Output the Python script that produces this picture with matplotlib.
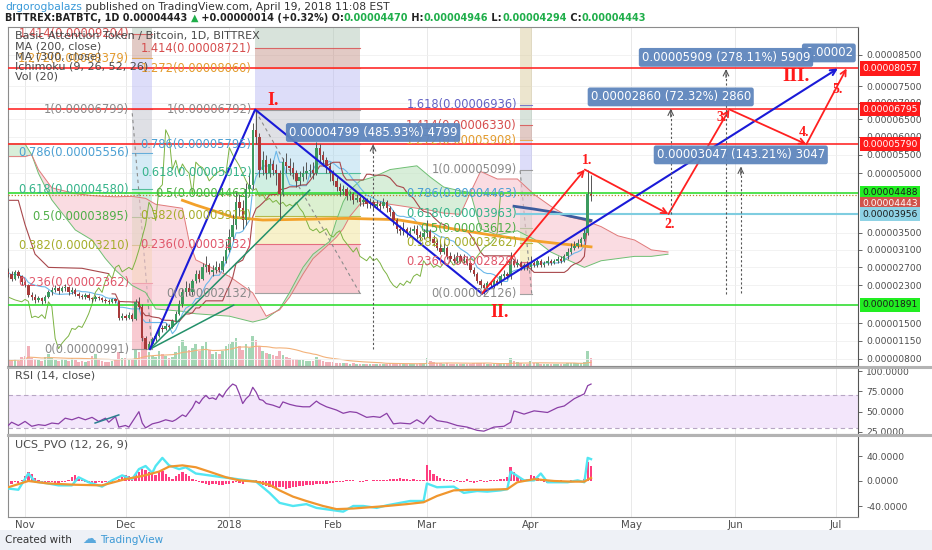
import numpy as np
import pandas as pd
import matplotlib
matplotlib.use("Agg")
import matplotlib.pyplot as plt
import matplotlib.dates as mdates
from matplotlib.lines import Line2D
from matplotlib.patches import Rectangle
from matplotlib.ticker import NullLocator

W, H = 932, 550

# ---------------- daily candles, satoshi (1e-8 BTC), 2017-10-27 .. 2018-04-19 ----------------
first_open = 2600
close_oct = [2550, 2450, 2600, 2500, 2380]
high_oct = [2680, 2620, 2650, 2640, 2540]
low_oct = [2480, 2400, 2420, 2460, 2320]

close_nov = [2300, 2100, 2050, 1980, 2020, 1960, 2060, 2150, 2200, 2250,
             2180, 2240, 2260, 2150, 2210, 2120, 2080, 2050, 2100, 2020,
             2000, 2050, 2020, 1990, 1970, 1950, 2000, 1960, 1620, 1650]
high_nov = [2420, 2340, 2150, 2110, 2080, 2060, 2100, 2200, 2260, 2320,
            2280, 2290, 2330, 2280, 2260, 2240, 2160, 2120, 2140, 2130,
            2060, 2090, 2080, 2050, 2020, 2010, 2040, 2030, 1990, 1720]
low_nov = [2260, 2050, 1980, 1930, 1950, 1900, 1930, 2020, 2100, 2150,
           2120, 2150, 2190, 2100, 2120, 2080, 2040, 2000, 2010, 1980,
           1950, 1970, 1980, 1940, 1930, 1910, 1920, 1920, 1580, 1580]

close_dec = [1620, 1680, 1600, 1950, 1850, 1200, 1000, 1100, 1180, 1250,
             1400, 1380, 1450, 1420, 1550, 1700, 1900, 2150, 2250, 2150,
             2400, 2550, 2450, 2700, 2750, 2600, 2650, 2700, 2650, 2850, 3100]
high_dec = [1700, 1740, 1720, 2000, 2050, 1900, 1250, 1150, 1230, 1300,
            1450, 1470, 1500, 1490, 1600, 1750, 1980, 2250, 2400, 2350,
            2450, 2650, 2650, 2800, 2950, 2800, 2750, 2850, 2800, 2950, 3300]
low_dec = [1570, 1590, 1560, 1580, 1800, 1150, 991, 995, 1080, 1150,
           1230, 1320, 1360, 1380, 1400, 1520, 1680, 1850, 2080, 2100,
           2100, 2350, 2380, 2420, 2600, 2550, 2500, 2580, 2600, 2600, 2800]

close_jan = [3400, 3700, 4250, 4100, 3800, 4600, 4700, 6200, 6000, 5100,
             5350, 5000, 5250, 5100, 5000, 4450, 5300, 5200, 5150, 5000,
             4800, 4900, 5000, 5050, 5100, 5000, 5700, 5500, 5350, 5200, 5000]
high_jan = [3600, 3950, 4500, 4450, 4300, 4750, 5000, 6400, 6792, 6100,
            5600, 5500, 5400, 5350, 5250, 5100, 5400, 5550, 5400, 5300,
            5100, 5050, 5200, 5300, 5250, 5300, 5850, 5800, 5600, 5450, 5300]
low_jan = [3050, 3300, 3600, 3900, 3600, 3700, 4400, 4600, 5800, 4900,
           4950, 4850, 4900, 4950, 4700, 3800, 4400, 5000, 4950, 4850,
           4650, 4700, 4800, 4850, 4900, 4850, 4950, 5300, 5200, 5000, 4800]

close_feb = [4800, 4650, 4550, 4600, 4400, 4450, 4300, 4350, 4250, 4300,
             4200, 4250, 4150, 4200, 4150, 4250, 4100, 4000, 3800, 3600,
             3550, 3600, 3500, 3550, 3600, 3450, 3400, 3500]
high_feb = [5100, 4900, 4750, 4700, 4650, 4550, 4500, 4450, 4400, 4400,
            4350, 4350, 4300, 4300, 4280, 4350, 4300, 4150, 4050, 3850,
            3700, 3750, 3650, 3650, 3700, 3700, 3550, 3600]
low_feb = [4700, 4550, 4400, 4450, 4300, 4300, 4200, 4250, 4150, 4150,
           4100, 4100, 4050, 4100, 4050, 4100, 4000, 3900, 3700, 3500,
           3450, 3450, 3400, 3450, 3500, 3350, 3300, 3350]

close_mar = [3550, 3350, 3250, 3150, 3050, 3150, 2950, 2900, 2850, 2950,
             2850, 2900, 2800, 2650, 2550, 2400, 2300, 2250, 2350, 2300,
             2400, 2350, 2500, 2550, 2500, 2850, 2750, 2800, 2700, 2750, 2700]
high_mar = [3800, 3600, 3450, 3350, 3250, 3300, 3200, 3050, 3000, 3050,
            3000, 3000, 2950, 2850, 2700, 2600, 2450, 2350, 2400, 2400,
            2450, 2450, 2550, 2650, 2600, 3050, 2900, 2900, 2850, 2800, 2850]
low_mar = [3400, 3300, 3200, 3100, 3000, 3000, 2900, 2850, 2800, 2800,
           2800, 2800, 2750, 2600, 2500, 2350, 2250, 2126, 2200, 2250,
           2250, 2300, 2300, 2450, 2450, 2450, 2700, 2700, 2650, 2650, 2650]

close_apr = [2800, 2750, 2850, 2750, 2800, 2850, 2800, 2850, 2900, 2850,
             2950, 3050, 3150, 3200, 3250, 3350, 3500, 4470, 4443]
high_apr = [2950, 2850, 2900, 2900, 2850, 2950, 2900, 2900, 2950, 2950,
            3000, 3150, 3250, 3300, 3350, 3400, 3600, 5099, 4946]
low_apr = [2650, 2700, 2700, 2700, 2700, 2750, 2750, 2780, 2800, 2800,
           2820, 2900, 3000, 3100, 3150, 3200, 3300, 3450, 4294]

# volume, relative units
vol_oct = [6, 5, 7, 5, 9]
vol_nov = [10, 20, 8, 7, 6, 5, 9, 12, 8, 6, 5, 7, 6, 5, 8, 6, 4, 5, 4, 5,
           10, 12, 7, 5, 4, 4, 5, 6, 14, 8]
vol_dec = [8, 6, 7, 16, 14, 30, 22, 14, 10, 9, 15, 12, 10, 8, 9, 14, 20, 26, 20, 16,
           18, 22, 15, 20, 24, 16, 12, 14, 12, 15, 20]
vol_jan = [22, 24, 28, 20, 16, 22, 18, 30, 26, 20, 15, 13, 12, 11, 10, 15, 11, 9, 8, 7,
           7, 6, 6, 5, 5, 5, 9, 7, 5, 4, 4]
vol_feb = [4, 3, 3, 3, 3, 2, 3, 2, 2, 2, 2, 2, 2, 2, 2, 2, 2, 3, 3, 3,
           3, 2, 2, 2, 2, 2, 3, 3]
vol_mar = [8, 5, 4, 3, 3, 2, 3, 2, 2, 2, 2, 2, 2, 2, 3, 3, 3, 3, 2, 2,
           2, 2, 3, 3, 3, 8, 5, 4, 3, 2, 2]
vol_apr = [5, 3, 3, 2, 2, 2, 2, 2, 2, 2, 2, 3, 3, 3, 3, 3, 4, 15, 8]

# PVO histogram, daily
hist_oct = [-3, -4, -2, -3, 2]
hist_nov = [8, 14, 11, 5, 1, -2, -3, -2, -2, -3, -3, -2, -2, 2, 6, 9, 4, 1, -2, -3,
            -4, -3, -2, -3, -2, -3, -2, -1, 4, 6]
hist_dec = [10, 8, 5, 12, 15, 20, 18, 14, 12, 10, 14, 16, 12, 6, 4, 8, 12, 15, 12, 8,
            4, 1, -2, -3, -5, -6, -5, -4, -6, -7, -5]
hist_jan = [-4, -3, -2, -3, -5, -2, -1, 2, 1, -3, -6, -8, -10, -11, -12, -10, -9, -12, -11, -10,
            -9, -8, -8, -7, -6, -6, -5, -4, -5, -4, -3]
hist_feb = [-3, -2, -2, -1, 1, 2, 1, 0, -1, -1, 1, 0, 1, 2, 1, 1, 2, 3, 4, 3,
            5, 4, 3, 2, 3, 2, 1, 2]
hist_mar = [26, 18, 12, 8, 5, 3, 2, 1, -1, 2, -2, -2, 3, -1, -3, -2, 2, -1, -1, 1,
            2, 2, 3, 4, 6, 22, 14, 8, 4, 2, 3]
hist_apr = [10, 8, 5, 2, -2, -3, -2, 1, -1, 2, -2, -1, 1, 2, 1, 0, 3, 30, 24]

rsi_points = [
    ("2017-10-27", 33), ("2017-10-28", 37), ("2017-10-30", 33), ("2017-11-01", 38),
    ("2017-11-03", 32), ("2017-11-05", 34), ("2017-11-07", 33), ("2017-11-09", 36),
    ("2017-11-11", 35), ("2017-11-13", 42), ("2017-11-15", 40), ("2017-11-17", 43),
    ("2017-11-19", 40), ("2017-11-21", 43), ("2017-11-23", 38), ("2017-11-25", 42),
    ("2017-11-26", 37), ("2017-11-28", 44), ("2017-11-29", 31), ("2017-12-01", 33),
    ("2017-12-02", 31), ("2017-12-05", 50), ("2017-12-06", 36), ("2017-12-07", 30),
    ("2017-12-09", 35), ("2017-12-11", 37), ("2017-12-13", 40), ("2017-12-15", 38),
    ("2017-12-16", 40), ("2017-12-18", 46), ("2017-12-19", 44), ("2017-12-21", 55),
    ("2017-12-22", 63), ("2017-12-23", 60), ("2017-12-24", 66), ("2017-12-25", 70),
    ("2017-12-26", 66), ("2017-12-27", 67), ("2017-12-28", 65), ("2017-12-29", 72),
    ("2017-12-30", 68), ("2017-12-31", 75), ("2018-01-01", 80), ("2018-01-02", 84),
    ("2018-01-03", 82), ("2018-01-04", 72), ("2018-01-05", 60), ("2018-01-06", 66),
    ("2018-01-07", 70), ("2018-01-08", 80), ("2018-01-09", 74), ("2018-01-10", 65),
    ("2018-01-11", 64), ("2018-01-12", 60), ("2018-01-14", 58), ("2018-01-16", 55),
    ("2018-01-17", 62), ("2018-01-19", 59), ("2018-01-21", 57), ("2018-01-23", 56),
    ("2018-01-25", 56), ("2018-01-27", 63), ("2018-01-28", 60), ("2018-01-30", 56),
    ("2018-02-02", 52), ("2018-02-04", 48), ("2018-02-06", 50), ("2018-02-08", 49),
    ("2018-02-11", 43), ("2018-02-13", 44), ("2018-02-15", 43), ("2018-02-17", 48),
    ("2018-02-19", 35), ("2018-02-21", 36), ("2018-02-24", 35), ("2018-02-26", 40),
    ("2018-02-28", 35), ("2018-03-02", 45), ("2018-03-04", 39), ("2018-03-07", 37),
    ("2018-03-10", 33), ("2018-03-13", 31), ("2018-03-16", 27), ("2018-03-18", 26),
    ("2018-03-21", 31), ("2018-03-24", 32), ("2018-03-26", 37), ("2018-03-27", 51),
    ("2018-03-30", 47), ("2018-04-02", 51), ("2018-04-04", 50), ("2018-04-06", 49),
    ("2018-04-09", 55), ("2018-04-11", 57), ("2018-04-14", 66), ("2018-04-16", 70),
    ("2018-04-17", 72), ("2018-04-18", 82), ("2018-04-19", 84),
]
rsi_trend = [("2017-11-21 22:00", 36), ("2017-11-29", 46)]

pvo_points = [
    ("2017-10-27", -12), ("2017-10-30", -14), ("2017-11-02", 12), ("2017-11-04", -1),
    ("2017-11-08", -4), ("2017-11-11", -7), ("2017-11-15", -7), ("2017-11-17", 6),
    ("2017-11-20", -2), ("2017-11-24", -9), ("2017-11-27", 1), ("2017-11-30", 9),
    ("2017-12-03", 3), ("2017-12-05", 19), ("2017-12-07", 24), ("2017-12-09", 13),
    ("2017-12-10", 24), ("2017-12-12", 37), ("2017-12-14", 25), ("2017-12-17", 19),
    ("2017-12-19", 22), ("2017-12-22", 12), ("2017-12-26", 9), ("2017-12-30", 6),
    ("2018-01-02", 4), ("2018-01-06", 1), ("2018-01-09", -1), ("2018-01-13", -19),
    ("2018-01-16", -35), ("2018-01-20", -40), ("2018-01-24", -37), ("2018-01-27", -43),
    ("2018-01-31", -46), ("2018-02-04", -49), ("2018-02-07", -40), ("2018-02-10", -40),
    ("2018-02-14", -43), ("2018-02-17", -39), ("2018-02-21", -35), ("2018-02-24", -32),
    ("2018-02-28", -32), ("2018-03-01", -4), ("2018-03-04", -10), ("2018-03-09", -9),
    ("2018-03-12", -19), ("2018-03-16", -16), ("2018-03-19", -17), ("2018-03-23", -15),
    ("2018-03-25", -13), ("2018-03-26", 15), ("2018-03-30", 1), ("2018-04-02", 1),
    ("2018-04-04", 12), ("2018-04-06", -2), ("2018-04-10", -2), ("2018-04-12", -2),
    ("2018-04-15", 1), ("2018-04-17", -2), ("2018-04-18", 37), ("2018-04-19", 35),
]
signal_points = [
    ("2017-10-27", -10), ("2017-11-02", 0), ("2017-11-08", -4), ("2017-11-16", -6),
    ("2017-11-24", -7), ("2017-12-01", 3), ("2017-12-06", 8), ("2017-12-11", 15),
    ("2017-12-14", 23), ("2017-12-18", 25), ("2017-12-22", 22), ("2017-12-26", 15),
    ("2017-12-31", 6), ("2018-01-04", 1), ("2018-01-09", -1), ("2018-01-13", -6),
    ("2018-01-16", -15), ("2018-01-20", -25), ("2018-01-24", -32), ("2018-01-29", -40),
    ("2018-02-02", -45), ("2018-02-07", -44), ("2018-02-12", -42), ("2018-02-17", -40),
    ("2018-02-23", -37), ("2018-02-28", -34), ("2018-03-04", -24), ("2018-03-09", -15),
    ("2018-03-14", -14), ("2018-03-19", -14), ("2018-03-25", -13), ("2018-03-28", -2),
    ("2018-04-02", 3), ("2018-04-08", 0), ("2018-04-13", -1), ("2018-04-17", -1),
    ("2018-04-19", 5),
]

ma200_points = [
    ("2017-12-18", 4300), ("2017-12-22", 4180), ("2017-12-28", 4020), ("2018-01-02", 3880),
    ("2018-01-11", 3810), ("2018-01-24", 3830), ("2018-02-05", 3850), ("2018-02-20", 3820),
    ("2018-03-01", 3700), ("2018-03-10", 3580), ("2018-03-20", 3450), ("2018-03-31", 3330),
    ("2018-04-10", 3240), ("2018-04-19", 3170),
]
ma300_points = [("2018-03-27", 4150), ("2018-04-02", 4080), ("2018-04-08", 4000),
                ("2018-04-13", 3900), ("2018-04-19", 3800)]

# Ichimoku base line before 26 days of history are on screen
kijun_early = [("2017-10-27", 4300), ("2017-10-30", 4300), ("2017-11-01", 3700),
               ("2017-11-04", 3000), ("2017-11-08", 2700), ("2017-11-18", 2680),
               ("2017-11-26", 2560)]

# Ichimoku cloud: (date, leading span A, leading span B)
cloud_points = [
    ("2017-10-27", 5800, 5450), ("2017-11-01", 5800, 5450), ("2017-11-03", 5500, 5500),
    ("2017-11-05", 5000, 5100), ("2017-11-09", 4310, 4620), ("2017-11-16", 3570, 4470),
    ("2017-11-21", 3330, 4420), ("2017-11-25", 2900, 4400), ("2017-11-28", 2640, 4390),
    ("2017-12-03", 2300, 4400), ("2017-12-07", 2150, 4350), ("2017-12-10", 1800, 4200),
    ("2017-12-18", 1750, 4100), ("2017-12-20", 1720, 3300), ("2017-12-22", 1700, 2870),
    ("2018-01-01", 1650, 2500), ("2018-01-08", 1530, 2140), ("2018-01-12", 1600, 1650),
    ("2018-01-16", 1800, 1780), ("2018-01-19", 2150, 2050), ("2018-01-23", 2700, 2550),
    ("2018-01-26", 3000, 2900), ("2018-01-31", 3300, 3250), ("2018-02-02", 3810, 3400),
    ("2018-02-04", 4260, 3600), ("2018-02-06", 4560, 3900), ("2018-02-09", 4800, 4200),
    ("2018-02-13", 4900, 4250), ("2018-02-18", 5100, 4200), ("2018-02-26", 5200, 4100),
    ("2018-03-02", 4900, 4050), ("2018-03-06", 4640, 3980), ("2018-03-11", 4540, 3950),
    ("2018-03-14", 4500, 4500), ("2018-03-17", 3600, 5050), ("2018-03-22", 3450, 4850),
    ("2018-03-28", 3550, 4850), ("2018-04-02", 3350, 4450), ("2018-04-07", 3050, 4150),
    ("2018-04-12", 2870, 3900), ("2018-04-17", 2700, 3800), ("2018-04-22", 2850, 3650),
    ("2018-04-27", 2900, 3430), ("2018-05-02", 2950, 3330), ("2018-05-07", 2950, 3100),
    ("2018-05-12", 3000, 3050),
]

# Fibonacci retracement tools
fib_low = [991, 2132, 2126]
fib_high = [6799, 6792, 5099]
fib_start = ["2017-12-02 22:00", "2018-01-08 14:00", "2018-03-28 19:00"]
fib_end = ["2017-12-08 22:00", "2018-02-09 00:00", "2018-04-01 07:00"]
fib_levels = [0, 0.236, 0.382, 0.5, 0.618, 0.786, 1, 1.272, 1.414, 1.618, 2.618]

# Elliott count
big_wave_dates = ["2017-12-08 07:00", "2018-01-08 17:00", "2018-03-17 10:00", "2018-07-01 17:00"]
big_wave_prices = [991, 6792, 2126, 8057]
small_wave_dates = ["2018-03-17 10:00", "2018-04-17 03:00", "2018-05-12 03:00",
                    "2018-05-30 07:00", "2018-06-22 07:00", "2018-07-04 07:00"]
small_wave_prices = [2126, 5099, 3956, 6795, 5790, 8057]
fan_end_dates = ["2018-01-25 00:00", "2018-01-02 07:00"]
fan_end_prices = [4560, 1880]

# price range measurements
range_dates = ["2018-02-12 22:00", "2018-05-12 19:00", "2018-05-29 07:00", "2018-06-02 17:00"]
range_lo = [991, 3956, 2125, 2130]
range_hi = [5790, 6816, 8034, 5177]
range_text = ["0.00004799 (485.93%) 4799", "0.00002860 (72.32%) 2860",
              "0.00005909 (278.11%) 5909", "0.00003047 (143.21%) 3047"]

red_levels = [8057, 6795, 5790]
green_levels = [4488, 1891]
blue_level = 3956
last_price = 4443

price_ticks = [800, 1150, 1500, 2300, 2700, 3100, 3500, 5000, 5500, 6000, 6500, 7000, 7500, 8500]
month_ticks = ["2017-11-01", "2017-12-01", "2018-01-01", "2018-02-01", "2018-03-01",
               "2018-04-01", "2018-05-01", "2018-06-01", "2018-07-01"]
month_labels = ["Nov", "Dec", "2018", "Feb", "Mar", "Apr", "May", "Jun", "Jul"]

# ---------------- assemble ----------------
days = pd.date_range("2017-10-27", "2018-04-19", freq="D")
x = mdates.date2num(days)
closes = np.array(close_oct + close_nov + close_dec + close_jan + close_feb + close_mar + close_apr, float)
highs = np.array(high_oct + high_nov + high_dec + high_jan + high_feb + high_mar + high_apr, float)
lows = np.array(low_oct + low_nov + low_dec + low_jan + low_feb + low_mar + low_apr, float)
opens = np.concatenate([[first_open], closes[:-1]])
vols = np.array(vol_oct + vol_nov + vol_dec + vol_jan + vol_feb + vol_mar + vol_apr, float)
hist = np.array(hist_oct + hist_nov + hist_dec + hist_jan + hist_feb + hist_mar + hist_apr, float)


def dn(s):
    return mdates.date2num(pd.Timestamp(s))


def unzip(points):
    return [dn(p[0]) for p in points], [p[1] for p in points]


fig = plt.figure(figsize=(W / 100, H / 100), dpi=100, facecolor="white")


def add_ax(x0, y0, x1, y1, **kw):
    return fig.add_axes([x0 / W, 1 - y1 / H, (x1 - x0) / W, (y1 - y0) / H], **kw)


ax = add_ax(8, 27, 858, 366)
ax_rsi = add_ax(8, 367, 858, 434, sharex=ax)
ax_pvo = add_ax(8, 435, 858, 517, sharex=ax)

C = 10000.0
ax.set_yscale("function", functions=(lambda v: np.log(np.asarray(v) + C),
                                      lambda u: np.exp(u) - C))
ax.set_ylim(667, 9431)
ax.set_xlim(dn("2017-10-26 22:00"), dn("2018-07-07 17:00"))

# volume underneath, on its own scale
ax_vol = ax.twinx()
ax.set_zorder(2)
ax_vol.set_zorder(1)
ax.patch.set_visible(False)
ax_vol.patch.set_facecolor("white")
up = closes >= opens
ax_vol.bar(x[up], vols[up], width=0.8, color="#93cfa8", alpha=0.85, lw=0)
ax_vol.bar(x[~up], vols[~up], width=0.8, color="#f0a2ad", alpha=0.85, lw=0)
vol_ma = pd.Series(vols).rolling(20, min_periods=1).mean()
ax_vol.plot(x, vol_ma, color="#f3b27a", lw=0.8)
ax_vol.set_ylim(0, 339)
ax_vol.set_yticks([])
for s in ax_vol.spines.values():
    s.set_visible(False)

# grid
for a in (ax, ax_rsi, ax_pvo):
    for m in month_ticks:
        a.axvline(dn(m), color="#e9e9e9", lw=0.7, zorder=0)
for v in price_ticks:
    ax.axhline(v, color="#f0f0f0", lw=0.6, zorder=0)

# fib tools
text_col = {0: "#8a8a8a", 0.236: "#e0566a", 0.382: "#a6ad2a", 0.5: "#4fae47", 0.618: "#35b38a",
            0.786: "#4a9fd3", 1: "#8a8a8a", 1.272: "#e39b2e", 1.414: "#d64d4d", 1.618: "#6262c4",
            2.618: "#b09a5a"}
band_col = {0.236: "#f08a9a", 0.382: "#eee08a", 0.5: "#b3df98", 0.618: "#98dcc0", 0.786: "#a3d4ec",
            1: "#b8bcc6", 1.272: "#b4b4f2", 1.414: "#c08a80", 1.618: "#a9c2b0", 2.618: "#d6c794"}
ytop = 9431
for lo, hi, s0, s1 in zip(fib_low, fib_high, fib_start, fib_end):
    x0, x1 = dn(s0), dn(s1)
    vals = [lo + l * (hi - lo) for l in fib_levels]
    for i in range(1, len(fib_levels)):
        vb, vt = vals[i - 1], min(vals[i], ytop)
        if vb >= ytop:
            break
        ax.fill_between([x0, x1], vb, vt, color=band_col[fib_levels[i]], alpha=0.45, lw=0, zorder=0.5)
    for l, v in zip(fib_levels, vals):
        if v > ytop:
            break
        ax.plot([x0, x1], [v, v], color=text_col[l], lw=0.8, alpha=0.8, zorder=0.6)
        ax.text(x0 - 0.9, v, f"{l:g}({round(v) / 1e8:.8f})", ha="right", va="center",
                fontsize=8.3, color=text_col[l], zorder=6, clip_on=True)
    ax.plot([x1, x0], [lo, hi], color="#8c8c8c", lw=0.8, ls=(0, (3, 3)), zorder=0.7)

# ichimoku cloud
cx, ca = unzip([(p[0], p[1]) for p in cloud_points])
cb = [p[2] for p in cloud_points]
ca, cb = np.array(ca, float), np.array(cb, float)
ax.fill_between(cx, ca, cb, where=ca >= cb, interpolate=True, color="#bfe3c1", alpha=0.6, lw=0, zorder=1)
ax.fill_between(cx, ca, cb, where=ca < cb, interpolate=True, color="#f7c6cf", alpha=0.6, lw=0, zorder=1)
ax.plot(cx, ca, color="#6fbf73", lw=0.7, zorder=1.2)
ax.plot(cx, cb, color="#e07a7a", lw=0.7, zorder=1.2)

hs, ls_ = pd.Series(highs), pd.Series(lows)
tenkan = (hs.rolling(9, min_periods=1).max() + ls_.rolling(9, min_periods=1).min()) / 2
kijun = (hs.rolling(26, min_periods=26).max() + ls_.rolling(26, min_periods=26).min()) / 2
kijun[days < pd.Timestamp("2017-11-27")] = np.nan
ax.plot(x, tenkan, color="#6bb8ea", lw=0.8, zorder=2)
ax.plot(x, kijun, color="#a8484c", lw=0.8, zorder=2)
kx, kv = unzip(kijun_early)
ax.plot(kx, kv, color="#a8484c", lw=0.8, zorder=2)
ax.plot(x - 26, closes, color="#7cb342", lw=0.7, zorder=2)

# moving averages
mx, mv = unzip(ma200_points)
ax.plot(mx, mv, color="#f3a12a", lw=2, zorder=2.5)
mx, mv = unzip(ma300_points)
ax.plot(mx, mv, color="#3d5c9e", lw=2, zorder=2.5)

# horizontal levels
for v in red_levels:
    ax.axhline(v, color="#ff2a2a", lw=1.2, zorder=2.6)
for v in green_levels:
    ax.axhline(v, color="#33dd33", lw=1.2, zorder=2.6)
ax.plot([dn("2018-03-28"), dn("2018-07-08")], [blue_level, blue_level], color="#7fcde0", lw=1.5, zorder=2.6)
ax.axhline(last_price, color="#b8832a", lw=0.9, ls=(0, (1, 1.5)), zorder=2.6)

# candles
body_lo = np.minimum(opens, closes)
body_h = np.maximum(np.abs(closes - opens), 8)
ax.vlines(x, lows, highs, color="#555555", lw=0.7, zorder=3)
ax.bar(x[up], body_h[up], bottom=body_lo[up], width=0.72, color="#3c9a5f", lw=0, zorder=3.1)
ax.bar(x[~up], body_h[~up], bottom=body_lo[~up], width=0.72, color="#a83a3a", lw=0, zorder=3.1)

# Elliott count
bx = [dn(s) for s in big_wave_dates]
ax.plot(bx[:3], big_wave_prices[:3], color="#1a1ad8", lw=1.5, zorder=4)
ax.annotate("", xy=(bx[3], big_wave_prices[3]), xytext=(bx[2], big_wave_prices[2]),
            arrowprops=dict(arrowstyle="->", color="#1a1ad8", lw=1.5, shrinkA=0, shrinkB=0), zorder=4)
sx = [dn(s) for s in small_wave_dates]
for i in range(len(sx) - 1):
    ax.annotate("", xy=(sx[i + 1], small_wave_prices[i + 1]), xytext=(sx[i], small_wave_prices[i]),
                arrowprops=dict(arrowstyle="->", color="#ff2020", lw=1.3, shrinkA=0, shrinkB=0,
                                mutation_scale=10), zorder=4)
for fd, fp in zip(fan_end_dates, fan_end_prices):
    ax.plot([bx[0], dn(fd)], [big_wave_prices[0], fp], color="#23906a", lw=1.1, zorder=3.5)

serif = dict(family="Liberation Serif", fontweight="bold", color="#ff1a1a", zorder=6)
ax.text(dn("2018-01-14"), 7076, "I.", ha="center", va="center", fontsize=13, **serif)
ax.text(dn("2018-03-22 20:00"), 1735, "II.", ha="center", va="center", fontsize=13, **serif)
ax.text(dn("2018-06-19 08:00"), 7800, "III.", ha="center", va="center", fontsize=14, **serif)
for lbl, d, v in [("1.", "2018-04-17 17:00", 5357), ("2.", "2018-05-12 10:00", 3690),
                  ("3.", "2018-05-28", 6570), ("4.", "2018-06-21 17:00", 6110),
                  ("5.", "2018-07-01 17:00", 7390)]:
    ax.text(dn(d), v, lbl, ha="center", va="center", fontsize=10, **serif)

# price range measurements (one more box sits half under its neighbour at the right edge)
box = dict(boxstyle="round,pad=0.25,rounding_size=0.2", fc="#5f86bd", ec="none", alpha=0.95)
ax.text(dn("2018-06-21 20:00"), 8560, "0.00002", ha="left", va="center",
        fontsize=8.4, color="white", bbox=box, zorder=6.5)
for d, lo, hi, t in zip(range_dates, range_lo, range_hi, range_text):
    xd = dn(d)
    ax.plot([xd, xd], [lo, hi], color="#555555", lw=0.8, ls=(0, (2, 2)), zorder=4.5)
    ax.annotate("", xy=(xd, hi), xytext=(0, -6), textcoords="offset points",
                arrowprops=dict(arrowstyle="->", color="#555555", lw=0.8, shrinkA=0, shrinkB=0))
    ax.annotate(t, xy=(xd, hi), xytext=(0, 8.5), textcoords="offset points", ha="center", va="center",
                fontsize=8.4, color="white", bbox=box, zorder=7)

# legend text
for i, t in enumerate(["Basic Attention Token / Bitcoin, 1D, BITTREX", "MA (200, close)",
                       "MA (300, close)", "Ichimoku (9, 26, 52, 26)", "Vol (20)"]):
    ax.text(0.0085, 0.973 - i * 0.0295, t, transform=ax.transAxes, fontsize=8.0, color="#4a4a4a",
            va="center", zorder=8)

# right price axis
ax.yaxis.tick_right()
ax.yaxis.set_minor_locator(NullLocator())
ax.set_yticks(price_ticks)
ax.set_yticklabels([f"{v / 1e8:.8f}" for v in price_ticks])
ytr = ax.get_yaxis_transform()
tag = [(8057, "#ff1a1a", "white", 0), (6795, "#ff1a1a", "white", 0), (5790, "#ff1a1a", "white", 0),
       (4488, "#22ee22", "#1a1a1a", 0), (4443, "#d0534a", "white", -6.5), (3956, "#8ed2e4", "#1a1a1a", 0),
       (1891, "#22ee22", "#1a1a1a", 0)]
for v, fc, tc, dy in tag:
    ax.annotate(f"{v / 1e8:.8f}", xy=(1.005, v), xycoords=ytr, xytext=(0, dy), textcoords="offset points",
                ha="left", va="center", fontsize=6.6, color=tc, annotation_clip=False, zorder=10,
                bbox=dict(boxstyle="square,pad=0.28", fc=fc, ec="none"))

# RSI
rx, rv = unzip(rsi_points)
ax_rsi.axhspan(30, 70, color="#f3e6fb", lw=0, zorder=0.5)
ax_rsi.axhline(70, color="#b7a6c4", lw=0.8, ls=(0, (4, 3)), zorder=0.6)
ax_rsi.axhline(30, color="#b7a6c4", lw=0.8, ls=(0, (4, 3)), zorder=0.6)
ax_rsi.plot(rx, rv, color="#8a3fa6", lw=0.9, zorder=3)
tx, tv = unzip(rsi_trend)
ax_rsi.plot(tx, tv, color="#2b7f90", lw=1.1, zorder=3)
ax_rsi.set_ylim(22.5, 105)
ax_rsi.yaxis.tick_right()
ax_rsi.set_yticks([25, 50, 75, 100])
ax_rsi.set_yticklabels(["25.0000", "50.0000", "75.0000", "100.0000"])
ax_rsi.text(0.0085, 0.87, "RSI (14, close)", transform=ax_rsi.transAxes, fontsize=8.0,
            color="#4a4a4a", va="center")

# PVO
ax_pvo.bar(x, hist, width=0.7, color="#ff3d80", lw=0, zorder=2)
px_, pv_ = unzip(pvo_points)
ax_pvo.plot(px_, pv_, color="#52e6f2", lw=1.7, zorder=3)
sx_, sv_ = unzip(signal_points)
ax_pvo.plot(sx_, sv_, color="#f0962e", lw=1.6, zorder=3.1)
ax_pvo.set_ylim(-57.6, 73.6)
ax_pvo.yaxis.tick_right()
ax_pvo.set_yticks([-40, 0, 40])
ax_pvo.set_yticklabels(["-40.0000", "0.0000", "40.0000"])
ax_pvo.text(0.0085, 0.878, "UCS_PVO (12, 26, 9)", transform=ax_pvo.transAxes, fontsize=8.0,
            color="#4a4a4a", va="center")

# axes cosmetics
ax_pvo.set_xticks([dn(m) for m in month_ticks])
ax_pvo.set_xticklabels(month_labels)
ax_pvo.xaxis.set_minor_locator(NullLocator())
for a in (ax, ax_rsi, ax_pvo):
    a.tick_params(axis="y", labelsize=6.6, colors="#4d4d4d", length=3, width=0.6, pad=3,
                  labelcolor="#4d4d4d")
    a.tick_params(axis="x", length=0, labelsize=7.3, labelcolor="#4d4d4d", pad=2)
    for name, s in a.spines.items():
        s.set_color("#8c8c8c")
        s.set_linewidth(0.8)
    a.spines["right"].set_color("#555555")
ax.tick_params(axis="x", labelbottom=False)
ax_rsi.tick_params(axis="x", labelbottom=False)
ax_vol.tick_params(axis="both", length=0, labelright=False)

# panel separators
for yy in (366.5, 434.5):
    fig.add_artist(Line2D([8 / W, 1], [1 - yy / H, 1 - yy / H], color="#b3b3b3", lw=2.2))

# bottom strip
fig.add_artist(Rectangle((0, 0), 1, 20 / H, transform=fig.transFigure, fc="#eef1f6", ec="none", zorder=-1))
fig.text(5 / W, 1 - 540 / H, "Created with", fontsize=7.5, color="#333333", va="center")
fig.text(82 / W, 1 - 539 / H, "\u2601", fontsize=10, color="#5aa9dd", va="center")
fig.text(100 / W, 1 - 540 / H, "TradingView", fontsize=7.5, color="#3d9ad6", va="center")

# header
renderer = fig.canvas.get_renderer()


def runs(x_px, y_px, parts, size, weight="normal"):
    xp = x_px
    for s, c in parts:
        t = fig.text(xp / W, 1 - y_px / H, s, color=c, fontsize=size, fontweight=weight, va="center")
        xp += t.get_window_extent(renderer=renderer).width


runs(5, 7, [("drgorogbalazs", "#3a9ad9"),
            (" published on TradingView.com, April 19, 2018 11:08 EST", "#333333")], 7.75)
g = "#1fae4a"
k = "#222222"
runs(5, 18, [("BITTREX:BATBTC, 1D 0.00004443 ", k), ("\u25b2", g), (" +0.00000014 (+0.32%) O:", k),
             ("0.00004470", g), (" H:", k), ("0.00004946", g), (" L:", k), ("0.00004294", g),
             (" C:", k), ("0.00004443", g)], 7, "bold")

fig.savefig("out.png", dpi=100, facecolor=fig.get_facecolor())
